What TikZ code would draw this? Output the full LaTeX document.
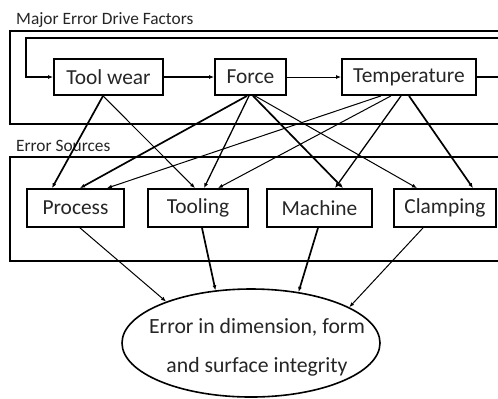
\documentclass[tikz,border=0pt]{standalone}
\usepackage{fontspec}
\setmainfont{Carlito}
\usetikzlibrary{arrows.meta,shapes.geometric}
\begin{document}
\begin{tikzpicture}[x=1bp,y=-1bp,
  box/.style={draw,line width=1.8bp,minimum height=36bp,inner sep=0pt,font=\fontsize{21.5}{24}\selectfont,text=black!85},
  srcbox/.style={box,minimum height=38bp},
  frame/.style={draw,line width=1.8bp},
  title/.style={anchor=west,inner sep=0pt,font=\fontsize{17.4}{20}\selectfont,text=black!85},
  tip/.style={-{Latex[length=5bp,width=4bp]}},
  thk/.style={tip,line width=1.7bp},
  med/.style={tip,line width=1.3bp},
  thn/.style={tip,line width=1bp}]
\useasboundingbox (0,0) rectangle (498,398);
\clip (0,0) rectangle (498,398);
\fill[white] (0,0) rectangle (498,398);
% frames
\draw[frame] (10,31) rectangle (510,124);
\draw[frame] (10,157) rectangle (510,261);
\node[title] (t1) at (16,20) {Major Error Drive Factors};
\node[title] (t2) at (16,146) {Error Sources};
% top nodes
\node[box,minimum width=109bp] (tw) at (108.5,77) {Tool wear};
\node[box,minimum width=71bp] (force) at (250.5,77) {Force};
\node[box,minimum width=134bp] (temp) at (409,77) {Temperature};
% source nodes
\node[srcbox,minimum width=97bp] (process) at (75.5,208) {Process};
\node[srcbox,minimum width=100bp] (tooling) at (198,208) {Tooling};
\node[srcbox,minimum width=105bp] (machine) at (319.5,208) {Machine};
\node[srcbox,minimum width=102bp] (clamping) at (445,208) {Clamping};
% ellipse
\node[draw,ellipse,line width=1.6bp,minimum width=258bp,minimum height=108bp,inner sep=0pt] (ell) at (251,343) {};
\node[align=center,inner sep=0pt,font=\fontsize{21.8}{39}\selectfont,text=black!85] (etext) at (257,347.5) {Error in dimension, form\\and surface integrity};
% feedback loop
\coordinate (fbR) at (505,38);
\coordinate (fbL) at (26,38);
\draw[med] (temp.east) -| (fbR) -- (fbL) |- (tw.west);
\draw[med] (tw.east) -- (force.west);
\draw[thn] (force.east) -- (temp.west);
% drive factors to sources
\draw[thk] ([xshift=-5.5bp]tw.south) -- ([xshift=-23.5bp]process.north);
\draw[thn] ([xshift=-5.5bp]tw.south) -- ([xshift=-3bp]tooling.north);
\draw[thk] ([xshift=-3.5bp]force.south) -- ([xshift=4.5bp]process.north);
\draw[med] ([xshift=-1.5bp]force.south) -- ([xshift=6bp]tooling.north);
\draw[thk] ([xshift=2.5bp]force.south) -- ([xshift=23.5bp]machine.north);
\draw[thn] ([xshift=4.5bp]force.south) -- ([xshift=-28bp]clamping.north);
\draw[thn] ([xshift=-28bp]temp.south) -- ([xshift=31.5bp]process.north);
\draw[thn] ([xshift=-18bp]temp.south) -- ([xshift=20bp]tooling.north);
\draw[med] ([xshift=-8bp]temp.south) -- ([xshift=15.5bp]machine.north);
\draw[thk] ([xshift=0bp]temp.south) -- ([xshift=28bp]clamping.north);
% sources to result
\draw[thn] ([xshift=4.5bp]process.south) -- (ell.154);
\draw[thk] ([xshift=4bp]tooling.south) -- (ell.124);
\draw[thk] ([xshift=-1.5bp]machine.south) -- (ell.47);
\draw[thn] ([xshift=-22bp]clamping.south) -- (ell.20);
\end{tikzpicture}
\end{document}
